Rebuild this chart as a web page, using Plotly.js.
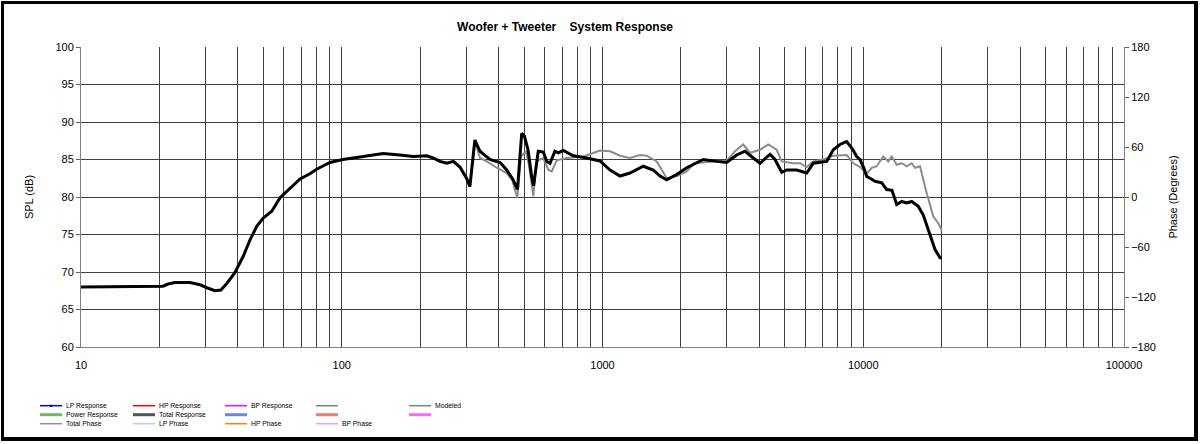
<!DOCTYPE html>
<html>
<head>
<meta charset="utf-8">
<script src="https://cdn.plot.ly/plotly-3.0.1.min.js"></script>
<style>
  html, body { margin: 0; padding: 0; background: #fff; }
  #wrap { position: relative; width: 1200px; height: 444px; }
  #paper { position: absolute; left: 0; top: 0; width: 1200px; height: 444px; }
  #frame {
    position: absolute; left: 1px; top: 1px; width: 1197px; height: 440px;
    box-sizing: border-box; border: 3px solid #000;
    border-right-width: 4px; border-bottom-width: 4px; pointer-events: none;
  }
</style>
</head>
<body>
<div id="wrap">
  <div id="paper"></div>
  <div id="frame"></div>
</div>
<script>
"use strict"

// Total response (thick black), Hz / dB
var respFreq = [10, 15.4, 16.1, 20.6, 21.6, 22.9, 26.2, 28.6, 30.4, 32.6,
    34.4, 36.3, 38.9, 40.7, 41.9, 44.5, 47.2, 50.0, 53.9, 58.0,
    63.3, 69.2, 75.5, 80.1, 90.1, 101, 121, 144, 167, 188,
    212, 224, 238, 253, 268, 284, 301, 310, 324, 339,
    370, 405, 429, 454, 472, 490, 502, 518, 535, 544,
    567, 593, 611, 629, 657, 677, 707, 773, 870, 978,
    1069, 1167, 1275, 1434, 1566, 1662, 1763, 1925, 2103, 2435,
    2741, 2995, 3270, 3520, 3787, 4018, 4389, 4587, 4868, 5088,
    5556, 6069, 6434, 7243, 7677, 8143, 8641, 9095, 9438, 9716,
    10020, 10310, 10615, 11097, 11770, 12298, 12887, 13436, 14044, 14680,
    15341, 16256, 16991, 18030, 18850, 19700, 20000];
var respDb = [68.0, 68.0, 68.1, 68.1, 68.4, 68.6, 68.6, 68.3, 67.9, 67.5,
    67.6, 68.5, 69.9, 71.2, 72.1, 74.3, 76.1, 77.2, 78.1, 79.9,
    81.2, 82.4, 83.1, 83.7, 84.6, 85.0, 85.4, 85.8, 85.6, 85.4,
    85.5, 85.2, 84.75, 84.5, 84.75, 84.0, 82.5, 81.4, 87.6, 86.1,
    85.0, 84.6, 83.6, 82.3, 81.0, 88.5, 88.1, 86.3, 82.75, 81.5,
    86.1, 86.0, 84.75, 84.5, 86.1, 85.9, 86.2, 85.5, 85.2, 84.8,
    83.6, 82.8, 83.2, 84.1, 83.6, 82.8, 82.3, 83.0, 83.9, 85.0,
    84.75, 84.6, 85.6, 86.1, 85.2, 84.5, 85.7, 85.0, 83.3, 83.6,
    83.6, 83.2, 84.5, 84.75, 86.3, 87.0, 87.4, 86.4, 85.4, 85.0,
    84.0, 82.75, 82.5, 82.1, 81.9, 81.0, 80.9, 79.0, 79.4, 79.2,
    79.4, 78.75, 77.6, 75.0, 73.0, 71.9, 71.9];

// Modeled (thin gray)
var modelFreq = [284, 301, 310, 324, 339, 360, 393, 429, 450, 471,
    487, 509, 522, 543, 559, 593, 620, 639, 667, 729,
    844, 978, 1069, 1167, 1275, 1393, 1477, 1614, 1763, 1925,
    2103, 2253, 2660, 2995, 3222, 3467, 3679, 4018, 4322, 4656,
    4868, 5392, 5721, 6069, 6434, 7029, 7677, 8641, 9158, 9716,
    10310, 10776, 11262, 11935, 12476, 12858, 13436, 14044, 14680, 15341,
    15796, 16504, 17516, 18564, 19403, 20000];
var modelDb = [84.0, 82.5, 81.4, 87.5, 85.2, 84.75, 83.9, 83.2, 82.3, 79.9,
    85.4, 86.1, 84.3, 80.1, 84.8, 85.2, 83.6, 83.4, 84.9, 85.2,
    85.4, 86.2, 86.1, 85.5, 85.2, 85.6, 85.5, 84.75, 82.5, 82.75,
    83.4, 84.5, 84.75, 84.8, 86.1, 87.0, 85.9, 86.3, 87.0, 86.3,
    84.75, 84.5, 84.5, 84.0, 84.75, 85.0, 85.5, 85.6, 84.5, 84.0,
    83.1, 83.9, 84.1, 85.4, 84.75, 85.4, 84.3, 84.5, 84.1, 84.5,
    83.9, 84.1, 80.5, 77.4, 76.5, 75.6];

var decadeLabels = ['10', '100', '1000', '10000', '100000'];
var splTicks = [60, 65, 70, 75, 80, 85, 90, 95, 100];
var phaseTicks = [-180, -120, -60, 0, 60, 120, 180];

// excel style legend, 5 columns x 3 rows
var legendLabels = ['LP Response', 'HP Response', 'BP Response', '', 'Modeled',
    'Power Response', 'Total Response', '', '', '',
    'Total Phase', 'LP Phase', 'HP Phase', 'BP Phase'];
var legendColors = ['#0000ff', '#ff0000', '#ff00ff', '#808080', '#808080',
    '#66bb66', '#555555', '#7080f0', '#f07878', '#ff66ff',
    '#909090', '#a8d4ff', '#ff7a20', '#ff9ccf'];

// plot area in pixels
var L = 81, R = 1124, T = 47.3, B = 347.3;
function px(x) { return (x - L) / (R - L); }
function py(y) { return (B - y) / (B - T); }

var xTickVals = [], xTickText = [];
for (var d = 0; d < 4; d++) {
    for (var m = 1; m < 10; m++) {
        xTickVals.push(m * Math.pow(10, d + 1));
        xTickText.push(m == 1 ? decadeLabels[d] : '');
    }
}
xTickVals.push(100000);
xTickText.push(decadeLabels[4]);

var font = 'Liberation Sans, Arial, sans-serif';

var traces = [
    {
        x: modelFreq, y: modelDb, type: 'scatter', mode: 'lines',
        name: 'Modeled', line: {color: '#8c8c8c', width: 2}, showlegend: false
    },
    {
        x: respFreq, y: respDb, type: 'scatter', mode: 'lines',
        name: 'Total Response', line: {color: '#000000', width: 3}, showlegend: false
    },
    {
        x: [10, 100000], y: [0, 0], yaxis: 'y2', type: 'scatter', mode: 'lines',
        line: {width: 0}, hoverinfo: 'skip', showlegend: false
    }
];

var shapes = [];
var annotations = [];
var colX = [40, 133, 225, 316, 409];
var rowY = [406, 415, 424];
legendLabels.forEach(function(label, i) {
    var c = i % 5, r = Math.floor(i / 5);
    var x0 = colX[c], y0 = rowY[r];
    shapes.push({
        type: 'line', xref: 'paper', yref: 'paper',
        x0: px(x0), x1: px(x0 + 22), y0: py(y0), y1: py(y0),
        line: {color: legendColors[i], width: r == 1 ? 3 : 1.5}
    });
    if (i == 0) {
        shapes.push({
            type: 'rect', xref: 'paper', yref: 'paper',
            x0: px(x0 + 10), x1: px(x0 + 12), y0: py(y0 - 1), y1: py(y0 + 1),
            fillcolor: '#000080', line: {width: 0}
        });
    }
    if (label) {
        annotations.push({
            text: label, xref: 'paper', yref: 'paper',
            x: px(x0 + 24), y: py(y0), xanchor: 'left', yanchor: 'middle',
            showarrow: false, font: {family: font, size: 6.8, color: '#000'}
        });
    }
});

var layout = {
    width: 1200, height: 444,
    margin: {l: L, r: 1200 - R, t: T, b: 444 - B, pad: 0},
    paper_bgcolor: '#ffffff', plot_bgcolor: '#ffffff',
    font: {family: font, size: 11, color: '#000'},
    title: {
        text: '<b>Woofer + Tweeter\u00a0\u00a0\u00a0\u00a0System Response</b>',
        font: {family: font, size: 12, color: '#000'},
        xref: 'container', x: 565 / 1200, xanchor: 'center',
        yref: 'container', y: 1 - 27 / 444, yanchor: 'middle'
    },
    xaxis: {
        type: 'log', range: [1, 5],
        tickvals: xTickVals, ticktext: xTickText,
        ticks: '', ticklabelstandoff: 8,
        showgrid: true, gridcolor: '#404040', gridwidth: 1,
        showline: true, linecolor: '#808080', linewidth: 1,
        zeroline: false, tickfont: {size: 11}
    },
    yaxis: {
        range: [60, 100], tickvals: splTicks,
        ticks: 'outside', ticklen: 4, tickcolor: '#606060',
        showgrid: true, gridcolor: '#404040', gridwidth: 1,
        showline: true, linecolor: '#808080', linewidth: 1,
        zeroline: false, tickfont: {size: 11},
        title: {text: 'SPL (dB)', standoff: 19, font: {size: 11}}
    },
    yaxis2: {
        overlaying: 'y', side: 'right', range: [-180, 180], tickvals: phaseTicks,
        ticks: 'outside', ticklen: 4, tickcolor: '#606060',
        showgrid: false, zeroline: false,
        showline: true, linecolor: '#808080', linewidth: 1,
        tickfont: {size: 11},
        title: {text: 'Phase (Degrees)', standoff: 14, font: {size: 11}}
    },
    shapes: shapes,
    annotations: annotations,
    showlegend: false
};

Plotly.newPlot('paper', traces, layout, {staticPlot: true});
</script>
</body>
</html>
